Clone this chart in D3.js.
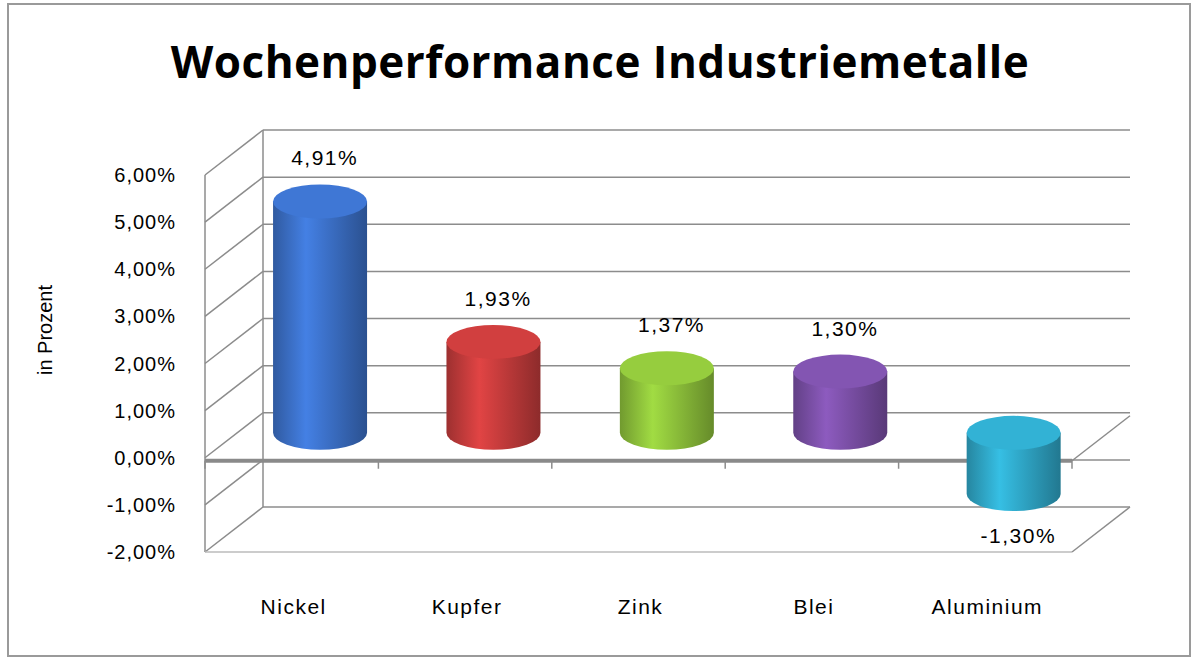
<!DOCTYPE html>
<html><head><meta charset="utf-8">
<script src="https://cdn.jsdelivr.net/npm/d3@7"></script>
<style>body{margin:0;background:#fff}</style>
</head><body>
<svg id="c" width="1200" height="665"></svg>
<script>
// data
var categories = ["Nickel", "Kupfer", "Zink", "Blei", "Aluminium"];
var values = [4.91, 1.93, 1.37, 1.30, -1.30];
var labels = ["4,91%", "1,93%", "1,37%", "1,30%", "-1,30%"];
var ticks = [-2, -1, 0, 1, 2, 3, 4, 5, 6];
var colors = ["#3b6fc6", "#c33b3b", "#8cbf3a", "#7a4fa6", "#2fa6c6"];

var svg = d3.select("#c");
var fmt = function(v){ return v.toFixed(2).replace(".", ",") + "%"; };
var font = "Liberation Sans, Arial, sans-serif";

// front plane scale, depth offset for back wall
var y = d3.scaleLinear().domain([-2, 6]).range([552, 175]);
var x = d3.scaleBand().domain(categories).range([205, 1072]).paddingInner(0);
var dx = 58, dy = -45;

svg.append("rect").attr("x", 8).attr("y", 4).attr("width", 1182).attr("height", 652)
  .attr("fill", "#fff").attr("stroke", "#9a9a9a").attr("stroke-width", 2);

svg.append("text").attr("x", 600).attr("y", 78).attr("text-anchor", "middle")
  .attr("font-family", "Open Sans, sans-serif").attr("font-weight", "bold")
  .attr("font-size", 44).attr("letter-spacing", 0.5).text("Wochenperformance Industriemetalle");

var g = svg.append("g").attr("stroke", "#8c8c8c").attr("stroke-width", 1.5).attr("fill", "none");
ticks.forEach(function(t){
  g.append("line").attr("x1", 205 + dx).attr("x2", 1072 + dx).attr("y1", y(t) + dy).attr("y2", y(t) + dy);
  g.append("line").attr("x1", 205).attr("x2", 205 + dx).attr("y1", y(t)).attr("y2", y(t) + dy);
});
g.append("line").attr("x1", 205 + dx).attr("x2", 205 + dx).attr("y1", y(6) + dy).attr("y2", y(-2) + dy);
g.append("line").attr("x1", 205).attr("x2", 205).attr("y1", y(6)).attr("y2", y(-2));
g.append("line").attr("x1", 205).attr("x2", 1072).attr("y1", y(-2)).attr("y2", y(-2)).attr("stroke", "#bbb");
g.append("line").attr("x1", 1072).attr("x2", 1072 + dx).attr("y1", y(-2)).attr("y2", y(-2) + dy);
g.append("line").attr("x1", 205).attr("x2", 1072).attr("y1", y(0) + 3).attr("y2", y(0) + 3)
  .attr("stroke", "#8a8a8a").attr("stroke-width", 4);
g.append("line").attr("x1", 1072).attr("x2", 1072 + dx).attr("y1", y(0) + 3).attr("y2", y(0) + 3 + dy);
categories.concat(["end"]).forEach(function(c, i){
  var xx = i < categories.length ? x(c) : 1072;
  g.append("line").attr("x1", xx).attr("x2", xx).attr("y1", y(0) + 3).attr("y2", y(0) + 11);
});

svg.append("g").selectAll("text").data(ticks).join("text")
  .attr("x", 176).attr("y", function(d){ return y(d) + 7; }).attr("text-anchor", "end")
  .attr("font-family", font).attr("font-size", 20).attr("letter-spacing", 1)
  .text(fmt);

svg.append("text").attr("transform", "translate(52,330) rotate(-90)").attr("text-anchor", "middle")
  .attr("font-family", font).attr("font-size", 20).text("in Prozent");

// cylinders
var defs = svg.append("defs");
colors.forEach(function(c, i){
  var gr = defs.append("linearGradient").attr("id", "g" + i);
  var cc = d3.color(c);
  gr.append("stop").attr("offset", "0%").attr("stop-color", cc.darker(0.6));
  gr.append("stop").attr("offset", "35%").attr("stop-color", cc.brighter(0.4));
  gr.append("stop").attr("offset", "100%").attr("stop-color", cc.darker(0.9));
});
var md = 0.42, rx = 47, ry = 17;
var bars = svg.append("g").selectAll("g").data(values).join("g");
bars.each(function(v, i){
  var s = d3.select(this);
  var cx = x(categories[i]) + x.bandwidth() / 2 + dx * md + 4;
  var y0 = y(0) + dy * md - 6, y1 = y(v) + dy * md - 6;
  var top = Math.min(y0, y1), bot = Math.max(y0, y1);
  s.append("path").attr("fill", "url(#g" + i + ")")
    .attr("d", "M" + (cx - rx) + "," + top + " L" + (cx - rx) + "," + bot +
      " A" + rx + "," + ry + " 0 0 0 " + (cx + rx) + "," + bot +
      " L" + (cx + rx) + "," + top + " Z");
  s.append("ellipse").attr("cx", cx).attr("cy", top).attr("rx", rx).attr("ry", ry)
    .attr("fill", d3.color(colors[i]).brighter(0.2));
});

svg.append("g").selectAll("text").data(values).join("text")
  .attr("x", function(d, i){ return x(categories[i]) + x.bandwidth() / 2 + 33; })
  .attr("y", function(d){ return d >= 0 ? y(d) + dy * 0.42 - 42 : y(d) + dy * 0.42 + 43; })
  .attr("text-anchor", "middle").attr("font-family", font).attr("letter-spacing", 1.5)
  .attr("font-size", 21).text(function(d, i){ return labels[i]; });

svg.append("g").selectAll("text").data(categories).join("text")
  .attr("x", function(d){ return x(d) + x.bandwidth() / 2 + 2; }).attr("y", 614)
  .attr("text-anchor", "middle").attr("font-family", font).attr("letter-spacing", 1.5)
  .attr("font-size", 21).text(function(d){ return d; });
</script>
</body></html>
